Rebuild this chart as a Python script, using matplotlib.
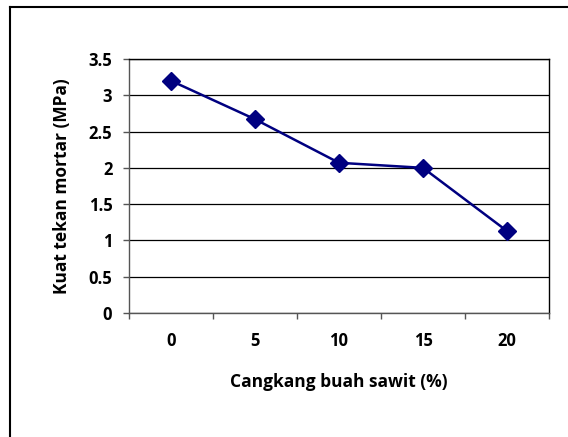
import numpy as np
import matplotlib.pyplot as plt
from matplotlib.lines import Line2D

categories = ['0', '5', '10', '15', '20']
kuat_tekan = [3.2, 2.67, 2.07, 2.0, 1.13]

plt.rcParams['font.family'] = ['Open Sans', 'DejaVu Sans']
plt.rcParams['font.weight'] = 'bold'

W, H = 568, 437
fig = plt.figure(figsize=(W / 100, H / 100), dpi=100)
ax = fig.add_axes([129 / W, 1 - 313 / H, (549 - 129) / W, (313 - 59) / H])

x = np.arange(len(categories))
ax.plot(x, kuat_tekan, color='#000080', linewidth=1.8, marker='D', markersize=9,
        clip_on=False, zorder=3)

ax.set_xlim(-0.5, len(categories) - 0.5)
ax.set_ylim(0, 3.5)
ax.set_yticks(np.arange(0, 3.51, 0.5))
ax.set_yticklabels(['0', '0.5', '1', '1.5', '2', '2.5', '3', '3.5'])
ax.set_xticks(np.arange(-0.5, len(categories), 1))
ax.set_xticklabels([])
ax.set_xticks(x, minor=True)
ax.set_xticklabels(categories, minor=True)
ax.tick_params(axis='x', which='minor', length=0, pad=14, labelsize=12)
ax.tick_params(axis='x', which='major', length=4, width=1, color='#555555')
ax.tick_params(axis='y', length=4, width=1, color='#555555', labelsize=12, pad=8)

ax.yaxis.grid(True, color='black', linewidth=0.9)
ax.set_axisbelow(True)
for s in ['left', 'bottom']:
    ax.spines[s].set_color('#555555')
    ax.spines[s].set_linewidth(1)
for s in ['right', 'top']:
    ax.spines[s].set_color('black')
    ax.spines[s].set_linewidth(1)

ax.set_ylabel('Kuat tekan mortar (MPa)', fontsize=12.5, fontweight='bold', labelpad=13)
ax.set_xlabel('Cangkang buah sawit (%)', fontsize=12.5, fontweight='bold', labelpad=16)

# outer chart frame (only left and top visible)
fig.add_artist(Line2D([9.5 / W, 9.5 / W], [0, 1 - 6.5 / H], color='black', linewidth=1.5,
                      transform=fig.transFigure))
fig.add_artist(Line2D([9.5 / W, 1], [1 - 6.5 / H, 1 - 6.5 / H], color='black', linewidth=1.5,
                      transform=fig.transFigure))

fig.savefig('out.png', dpi=100)
